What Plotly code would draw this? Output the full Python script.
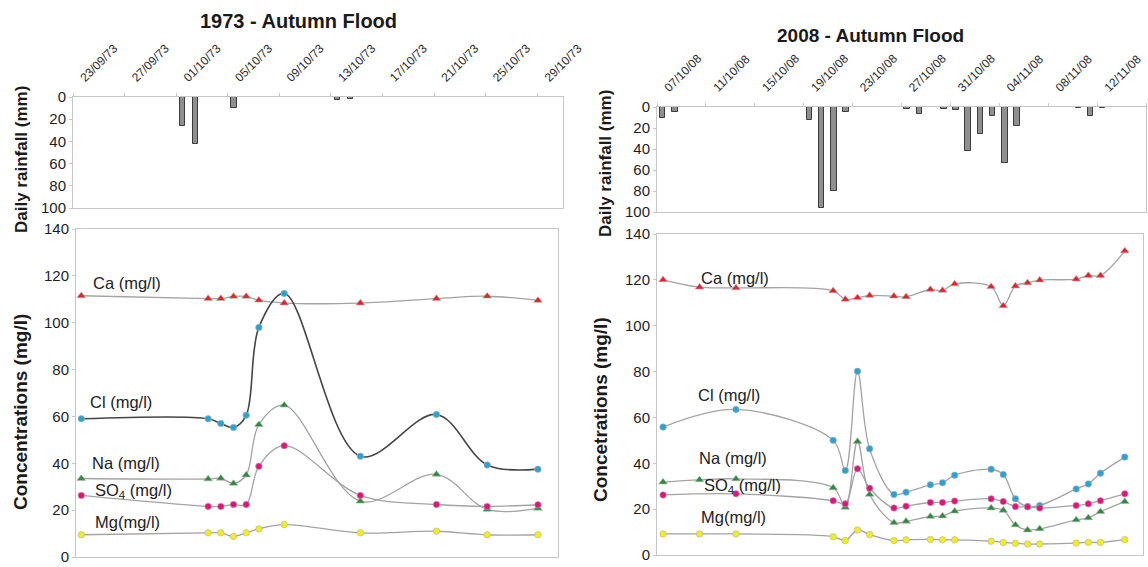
import plotly.graph_objects as go

# ---------------- data ----------------
# 1973 daily rainfall
rain73_dates = ["1973-10-01 12:00", "1973-10-02 12:00", "1973-10-05 12:00",
                "1973-10-13 12:00", "1973-10-14 12:00"]
rain73_mm = [26, 42, 10, 3, 1.5]

# 1973 concentrations (mg/l)
s73_dates = ["1973-09-23 10:00", "1973-10-03 10:00", "1973-10-04 10:00", "1973-10-05 10:00",
             "1973-10-06 10:00", "1973-10-07 10:00", "1973-10-09 10:00", "1973-10-15 10:00",
             "1973-10-21 10:00", "1973-10-25 10:00", "1973-10-29 10:00"]
ca73 = [111.5, 110.3, 110.3, 111.2, 111.2, 109.6, 108.4, 108.4, 110.3, 111.3, 109.5]
cl73 = [59, 59, 57, 55.3, 60.5, 98, 112.5, 43, 60.8, 39.3, 37.5]
na73 = [33.5, 33.3, 33.6, 31.4, 35, 56.5, 64.8, 23.8, 35.3, 20.3, 20.8]
so473 = [26.3, 21.6, 21.6, 22.4, 22.4, 38.7, 47.5, 26.3, 22.4, 21.6, 22.3]
mg73 = [9.5, 10.3, 10.3, 8.8, 10.3, 12, 13.8, 10.3, 11, 9.5, 9.5]

# 2008 daily rainfall
rain08_dates = ["2008-10-07 11:00", "2008-10-08 11:00", "2008-10-19 11:00", "2008-10-20 11:00",
                "2008-10-21 11:00", "2008-10-22 11:00", "2008-10-27 11:00", "2008-10-28 11:00",
                "2008-10-30 11:00", "2008-10-31 11:00", "2008-11-01 11:00", "2008-11-02 11:00",
                "2008-11-03 11:00", "2008-11-04 11:00", "2008-11-05 11:00", "2008-11-10 11:00",
                "2008-11-11 11:00", "2008-11-12 11:00"]
rain08_mm = [10, 5, 12, 96, 80, 5, 2, 7, 1.5, 3, 42, 26, 9, 53, 18, 1.3, 8.5, 1]

# 2008 concentrations (mg/l)
s08_dates = ["2008-10-07 12:00", "2008-10-10 12:00", "2008-10-13 12:00", "2008-10-21 12:00",
             "2008-10-22 12:00", "2008-10-23 12:00", "2008-10-24 12:00", "2008-10-26 12:00",
             "2008-10-27 12:00", "2008-10-29 12:00", "2008-10-30 12:00", "2008-10-31 12:00",
             "2008-11-03 12:00", "2008-11-04 12:00", "2008-11-05 12:00", "2008-11-06 12:00",
             "2008-11-07 12:00", "2008-11-10 12:00", "2008-11-11 12:00", "2008-11-12 12:00",
             "2008-11-14 12:00"]
ca08 = [120, 116.8, 116.5, 115.2, 111.5, 112.2, 113.2, 112.9, 112.6, 115.8, 115.4,
        118.2, 117, 108.7, 117.3, 118.7, 119.9, 120.3, 121.9, 121.9, 132.6]
cl08 = [55.8, None, 63.5, 50, 36.9, 80.1, 46.3, 26.4, 27.4, 30.6, 31.5,
        34.8, 37.4, 35.1, 24.5, 21.1, 21.6, 28.8, 31, 35.7, 42.7]
na08 = [31.8, 32.8, 33.2, 29.3, 20.8, 49.5, 26.4, 14.1, 14.7, 16.8, 17,
        19.1, 20.5, 19.5, 13.1, 10.9, 11.4, 15.3, 16.2, 18.9, 23.3]
so408 = [26.2, None, 26.7, 23.7, 22.3, 37.6, 29.1, 20.5, 21.3, 22.9, 22.9,
         23.5, 24.5, 23.3, 21.1, 21, 20.5, 21.6, 22.3, 23.7, 26.7]
mg08 = [9.2, 9.2, 9.2, 8, 6.3, 10.9, 8.9, 6.3, 6.6, 6.8, 6.6,
        6.6, 6, 5.5, 5.1, 4.8, 4.8, 5.2, 5.5, 5.5, 6.7]

conc_ticks = [0, 20, 40, 60, 80, 100, 120, 140]
rain_ticks = [0, 20, 40, 60, 80, 100]

# ---------------- styling ----------------
W, H = 1148, 567
FONT = "Liberation Sans, Arial, sans-serif"
DAY = 86400000
C_CA, C_CL, C_NA, C_SO4, C_MG = "#e8202a", "#2aa3d2", "#2e8b3c", "#e5127c", "#f2ee1c"
LINE_LIGHT = "#a3a3a3"
BORDER = "#c6c6c6"


def xdom(a, b):
    return [a / W, b / W]


def ydom(top, bottom):
    return [1 - bottom / H, 1 - top / H]


fig = go.Figure()

# ---- bars ----
bar_style = dict(marker=dict(color="#8f8f8f", line=dict(color="#3c3c3c", width=1)),
                 showlegend=False, hoverinfo="x+y")
fig.add_trace(go.Bar(x=rain73_dates, y=rain73_mm, width=0.42 * DAY, xaxis="x", yaxis="y", **bar_style))
fig.add_trace(go.Bar(x=rain08_dates, y=rain08_mm, width=0.45 * DAY, xaxis="x3", yaxis="y3", **bar_style))


# ---- concentration lines ----
def series(x, y, color, symbol, line_color, line_width, xa, ya, name):
    size = 7.5 if symbol == "triangle-up" else 6.5
    fig.add_trace(go.Scatter(
        x=x, y=y, mode="lines+markers", name=name, connectgaps=True,
        line=dict(color=line_color, width=line_width, shape="spline", smoothing=1.0),
        marker=dict(color=color, symbol=symbol, size=size, line=dict(color="#b0b0b0", width=0.6)),
        xaxis=xa, yaxis=ya, showlegend=False))


series(s73_dates, ca73, C_CA, "triangle-up", LINE_LIGHT, 1.3, "x2", "y2", "Ca")
series(s73_dates, cl73, C_CL, "circle", "#454545", 1.6, "x2", "y2", "Cl")
series(s73_dates, na73, C_NA, "triangle-up", LINE_LIGHT, 1.3, "x2", "y2", "Na")
series(s73_dates, so473, C_SO4, "circle", LINE_LIGHT, 1.3, "x2", "y2", "SO4")
series(s73_dates, mg73, C_MG, "circle", LINE_LIGHT, 1.3, "x2", "y2", "Mg")

series(s08_dates, ca08, C_CA, "triangle-up", LINE_LIGHT, 1.3, "x4", "y4", "Ca")
series(s08_dates, cl08, C_CL, "circle", LINE_LIGHT, 1.3, "x4", "y4", "Cl")
series(s08_dates, na08, C_NA, "triangle-up", LINE_LIGHT, 1.3, "x4", "y4", "Na")
series(s08_dates, so408, C_SO4, "circle", LINE_LIGHT, 1.3, "x4", "y4", "SO4")
series(s08_dates, mg08, C_MG, "circle", LINE_LIGHT, 1.3, "x4", "y4", "Mg")

# ---------------- axes ----------------
box = dict(showline=True, mirror=True, linecolor=BORDER, linewidth=1, showgrid=False, zeroline=False,
           automargin=False)
date_axis = dict(type="date", side="top", dtick=4 * DAY, tickformat="%d/%m/%y", tickangle=-45,
                 tickfont=dict(family=FONT, size=12, color="#2a2a2a"), ticks="outside", ticklen=3,
                 tickcolor=BORDER, ticklabelshift=8, ticklabelstandoff=4, ticklabeloverflow="allow",
                 **box)
rain_y = dict(range=[100, 0], tickvals=rain_ticks, tickfont=dict(family=FONT, size=15, color="#1e1e1e"),
              ticks="outside", ticklen=3, tickcolor=BORDER, **box)
conc_x = dict(type="date", showticklabels=False, ticks="", **box)
conc_y = dict(range=[0, 140], tickvals=conc_ticks, tickfont=dict(family=FONT, size=15, color="#1e1e1e"),
              ticks="outside", ticklen=3, tickcolor=BORDER, **box)

fig.update_layout(
    width=W, height=H, margin=dict(l=0, r=0, t=0, b=0, autoexpand=False),
    paper_bgcolor="white", plot_bgcolor="white", bargap=0,
    font=dict(family=FONT, color="#222"),
    xaxis=dict(domain=xdom(73, 563), anchor="y", range=["1973-09-23", "1973-10-31"],
               tick0="1973-09-23", **date_axis),
    yaxis=dict(domain=ydom(97, 208), anchor="x", **rain_y),
    xaxis2=dict(domain=xdom(76, 558), anchor="y2", range=["1973-09-23", "1973-10-31"], **conc_x),
    yaxis2=dict(domain=ydom(229, 557), anchor="x2", **conc_y),
    xaxis3=dict(domain=xdom(657, 1146), anchor="y3", range=["2008-10-07", "2008-11-16"],
                tick0="2008-10-07", **date_axis),
    yaxis3=dict(domain=ydom(107, 212), anchor="x3", **rain_y),
    xaxis4=dict(domain=xdom(657, 1143), anchor="y4", range=["2008-10-07", "2008-11-16"], **conc_x),
    yaxis4=dict(domain=ydom(234, 555), anchor="x4", **conc_y),
)

# ---------------- text ----------------
ann = []


def paper_text(x, y, text, size, bold=True, angle=0):
    ann.append(dict(xref="paper", yref="paper", x=x / W, y=1 - y / H, text=f"<b>{text}</b>" if bold else text,
                    showarrow=False, textangle=angle, xanchor="center", yanchor="middle",
                    font=dict(family=FONT, size=size, color="#1a1a1a")))


paper_text(298, 21, "1973 - Autumn Flood", 20)
paper_text(870, 35, "2008 - Autumn Flood", 19)
paper_text(21, 160, "Daily rainfall (mm)", 17, angle=-90)
paper_text(605, 163, "Daily rainfall (mm)", 17, angle=-90)
paper_text(20, 412, "Concentrations (mg/l)", 19, angle=-90)
paper_text(600, 410, "Concetrations (mg/l)", 19, angle=-90)


def label(xa, ya, x, y, text):
    ann.append(dict(xref=xa, yref=ya, x=x, y=y, text=text, showarrow=False,
                    xanchor="center", yanchor="middle", font=dict(family=FONT, size=16.5, color="#222")))


label("x2", "y2", "1973-09-27 01:00", 117, "Ca (mg/l)")
label("x2", "y2", "1973-09-26 14:00", 66, "Cl (mg/l)")
label("x2", "y2", "1973-09-26 22:00", 40, "Na (mg/l)")
label("x2", "y2", "1973-09-27 12:00", 28, "SO<sub>4</sub> (mg/l)")
label("x2", "y2", "1973-09-27 01:00", 15, "Mg(mg/l)")

label("x4", "y4", "2008-10-13 10:00", 121, "Ca (mg/l)")
label("x4", "y4", "2008-10-12 22:00", 69.6, "Cl (mg/l)")
label("x4", "y4", "2008-10-13 06:00", 42.4, "Na (mg/l)")
label("x4", "y4", "2008-10-14 00:00", 30, "SO<sub>4</sub> (mg/l)")
label("x4", "y4", "2008-10-13 08:00", 16.5, "Mg(mg/l)")

fig.update_layout(annotations=ann)

fig.write_html("out.html")
